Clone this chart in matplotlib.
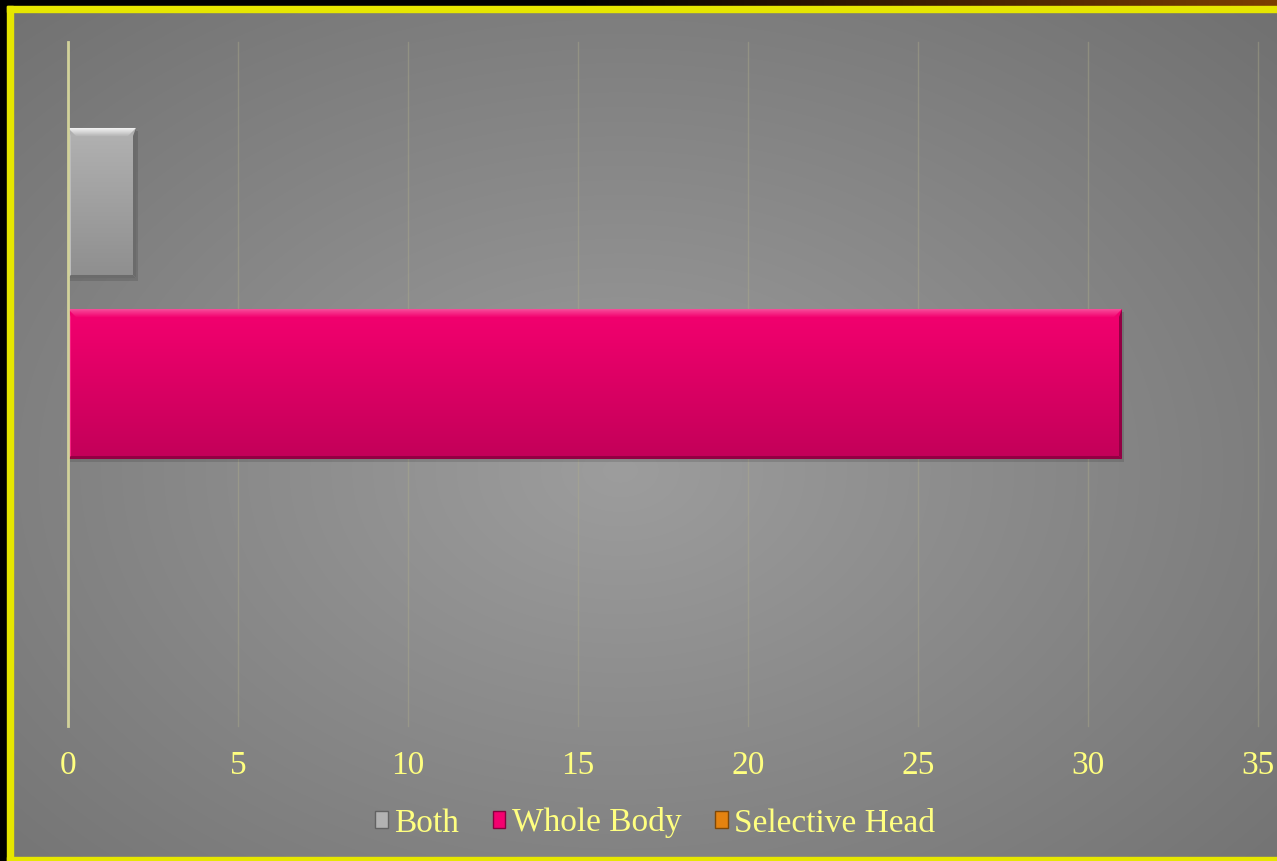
import numpy as np
import matplotlib.pyplot as plt
from matplotlib.patches import Rectangle, Polygon, Patch
from matplotlib.colors import to_rgb

# ---- data
series = ['Both', 'Whole Body', 'Selective Head']
values = [2, 31, 0]
bar_colors = ['#b2b2b2', '#f4006f', '#e5830f']
xticks = [0, 5, 10, 15, 20, 25, 30, 35]

W, H = 1277, 861
TXT = '#ffff80'
plt.rcParams['font.family'] = ['Liberation Serif', 'DejaVu Serif']

fig = plt.figure(figsize=(W / 100, H / 100), dpi=100, facecolor='black')

# ---- background canvas in pixel coordinates
bg = fig.add_axes([0, 0, 1, 1])
bg.set_xlim(0, W)
bg.set_ylim(H, 0)
bg.axis('off')

yy, xx = np.mgrid[0:H, 0:W]
r = np.sqrt(((xx - 620) / 800) ** 2 + ((yy - 470) / 560) ** 2)
shade = 0.615 - 0.15 * np.clip(r, 0, 1.2)
bg.imshow(np.dstack([shade] * 3), extent=(0, W, H, 0), aspect='auto', zorder=0)

# brown strip along the top edge
strip = np.linspace(0, 1, W)
strip = np.clip((strip - 0.45) / 0.55, 0, 1)
brown = np.array(to_rgb('#7c3e00'))
top_rgb = strip[None, :, None] * brown[None, None, :]
bg.imshow(np.repeat(top_rgb, 2, axis=0), extent=(0, W, 6, 0), aspect='auto', zorder=1)
bg.add_patch(Rectangle((0, 0), 7, H, color='black', zorder=1))

# yellow frame
ylw = '#e6e600'
bg.add_patch(Rectangle((7, 6), W, 6, color=ylw, zorder=2))
bg.add_patch(Rectangle((7, 6), 6, H, color=ylw, zorder=2))
bg.add_patch(Rectangle((7, 857), W, 6, color=ylw, zorder=2))
bg.set_xlim(0, W)
bg.set_ylim(H, 0)

# ---- chart
left, right, top, bottom = 68, 1258, 42, 726
ax = fig.add_axes([left / W, 1 - bottom / H, (right - left) / W, (bottom - top) / H])
ax.set_facecolor('none')
half = 1.8895
ax.set_xlim(0, 35)
ax.set_ylim(-half, half)

positions = [1, 0, -1]
bars = ax.barh(positions, values, height=0.829, color=bar_colors, zorder=3)

sx = 35 / (right - left)
sy = 2 * half / (bottom - top)


def mix(c, other, t):
    c = np.array(to_rgb(c))
    o = np.array(to_rgb(other))
    return tuple(c * (1 - t) + o * t)


def bevel(bar, color, top_light):
    x0, w = bar.get_x(), bar.get_width()
    y0, h = bar.get_y(), bar.get_height()
    if w <= 0:
        return
    x1, y1 = x0 + w, y0 + h
    # soft shadow
    ax.add_patch(Rectangle((x0 + 2 * sx, y0 - 3 * sy), w, h, color='black',
                           alpha=0.12, lw=0, zorder=2.5))
    # body gradient
    g = np.linspace(0, 1, 64)[:, None]
    top_c = np.array(to_rgb(color))
    bot_c = np.array(mix(color, 'black', 0.2))
    img = top_c[None, None, :] * (1 - g[..., None]) + bot_c[None, None, :] * g[..., None]
    im = ax.imshow(img, extent=(x0, x1, y0, y1), aspect='auto', zorder=3.2,
                   interpolation='bilinear')
    im.set_clip_path(bar)
    bx, by = 8 * sx, 8 * sy
    tx, ty = 3 * sx, 3 * sy
    # top bevel: fade from highlight at the edge into the body colour
    n = 8
    for i in range(n):
        f0, f1 = i / n, (i + 1) / n
        c = mix(color, 'white', top_light * (1 - f0))
        ax.add_patch(Polygon([(x0 + bx * f0, y1 - by * f0), (x1 - bx * f0, y1 - by * f0),
                              (x1 - bx * f1, y1 - by * f1), (x0 + bx * f1, y1 - by * f1)],
                             closed=True, color=c, lw=0, zorder=3.4))
    ax.add_patch(Polygon([(x0, y1), (x0 + tx, y1 - by), (x0 + tx, y0 + ty), (x0, y0)],
                         closed=True, color=mix(color, 'white', 0.12), lw=0, zorder=3.4))
    ax.add_patch(Polygon([(x1, y1), (x1 - tx, y1 - by), (x1 - tx, y0 + ty), (x1, y0)],
                         closed=True, color=mix(color, 'black', 0.4), lw=0, zorder=3.4))
    ax.add_patch(Polygon([(x0, y0), (x1, y0), (x1 - tx, y0 + ty), (x0 + tx, y0 + ty)],
                         closed=True, color=mix(color, 'black', 0.4), lw=0, zorder=3.4))


for b, c, tl in zip(bars, bar_colors, [0.85, 0.3, 0.4]):
    bevel(b, c, tl)

ax.set_xticks(xticks)
ax.set_xticklabels([str(t) for t in xticks])
ax.set_yticks([])
ax.tick_params(axis='x', length=0, pad=18, labelsize=24, labelcolor=TXT)
ax.grid(axis='x', color='#b0ae8c', alpha=0.4, lw=1, zorder=1)
for gl in ax.get_xgridlines():
    gl.set_clip_on(False)
ax.set_xlim(0, 35)
ax.set_ylim(-half, half)
for s in ['top', 'right', 'bottom']:
    ax.spines[s].set_visible(False)
ax.spines['left'].set_color('#d2d29a')
ax.spines['left'].set_linewidth(2)
ax.spines['left'].set_zorder(4)

handles = [Patch(facecolor=c, edgecolor=mix(c, 'black', 0.45), lw=1) for c in bar_colors]
fig.legend(handles, series, loc='center', bbox_to_anchor=(0.513, 1 - 823 / H),
           ncol=3, frameon=False, fontsize=24, labelcolor=TXT,
           handlelength=0.38, handleheight=0.38, handletextpad=0.2,
           columnspacing=1.0)

fig.savefig('out.png', dpi=100, facecolor=fig.get_facecolor())
